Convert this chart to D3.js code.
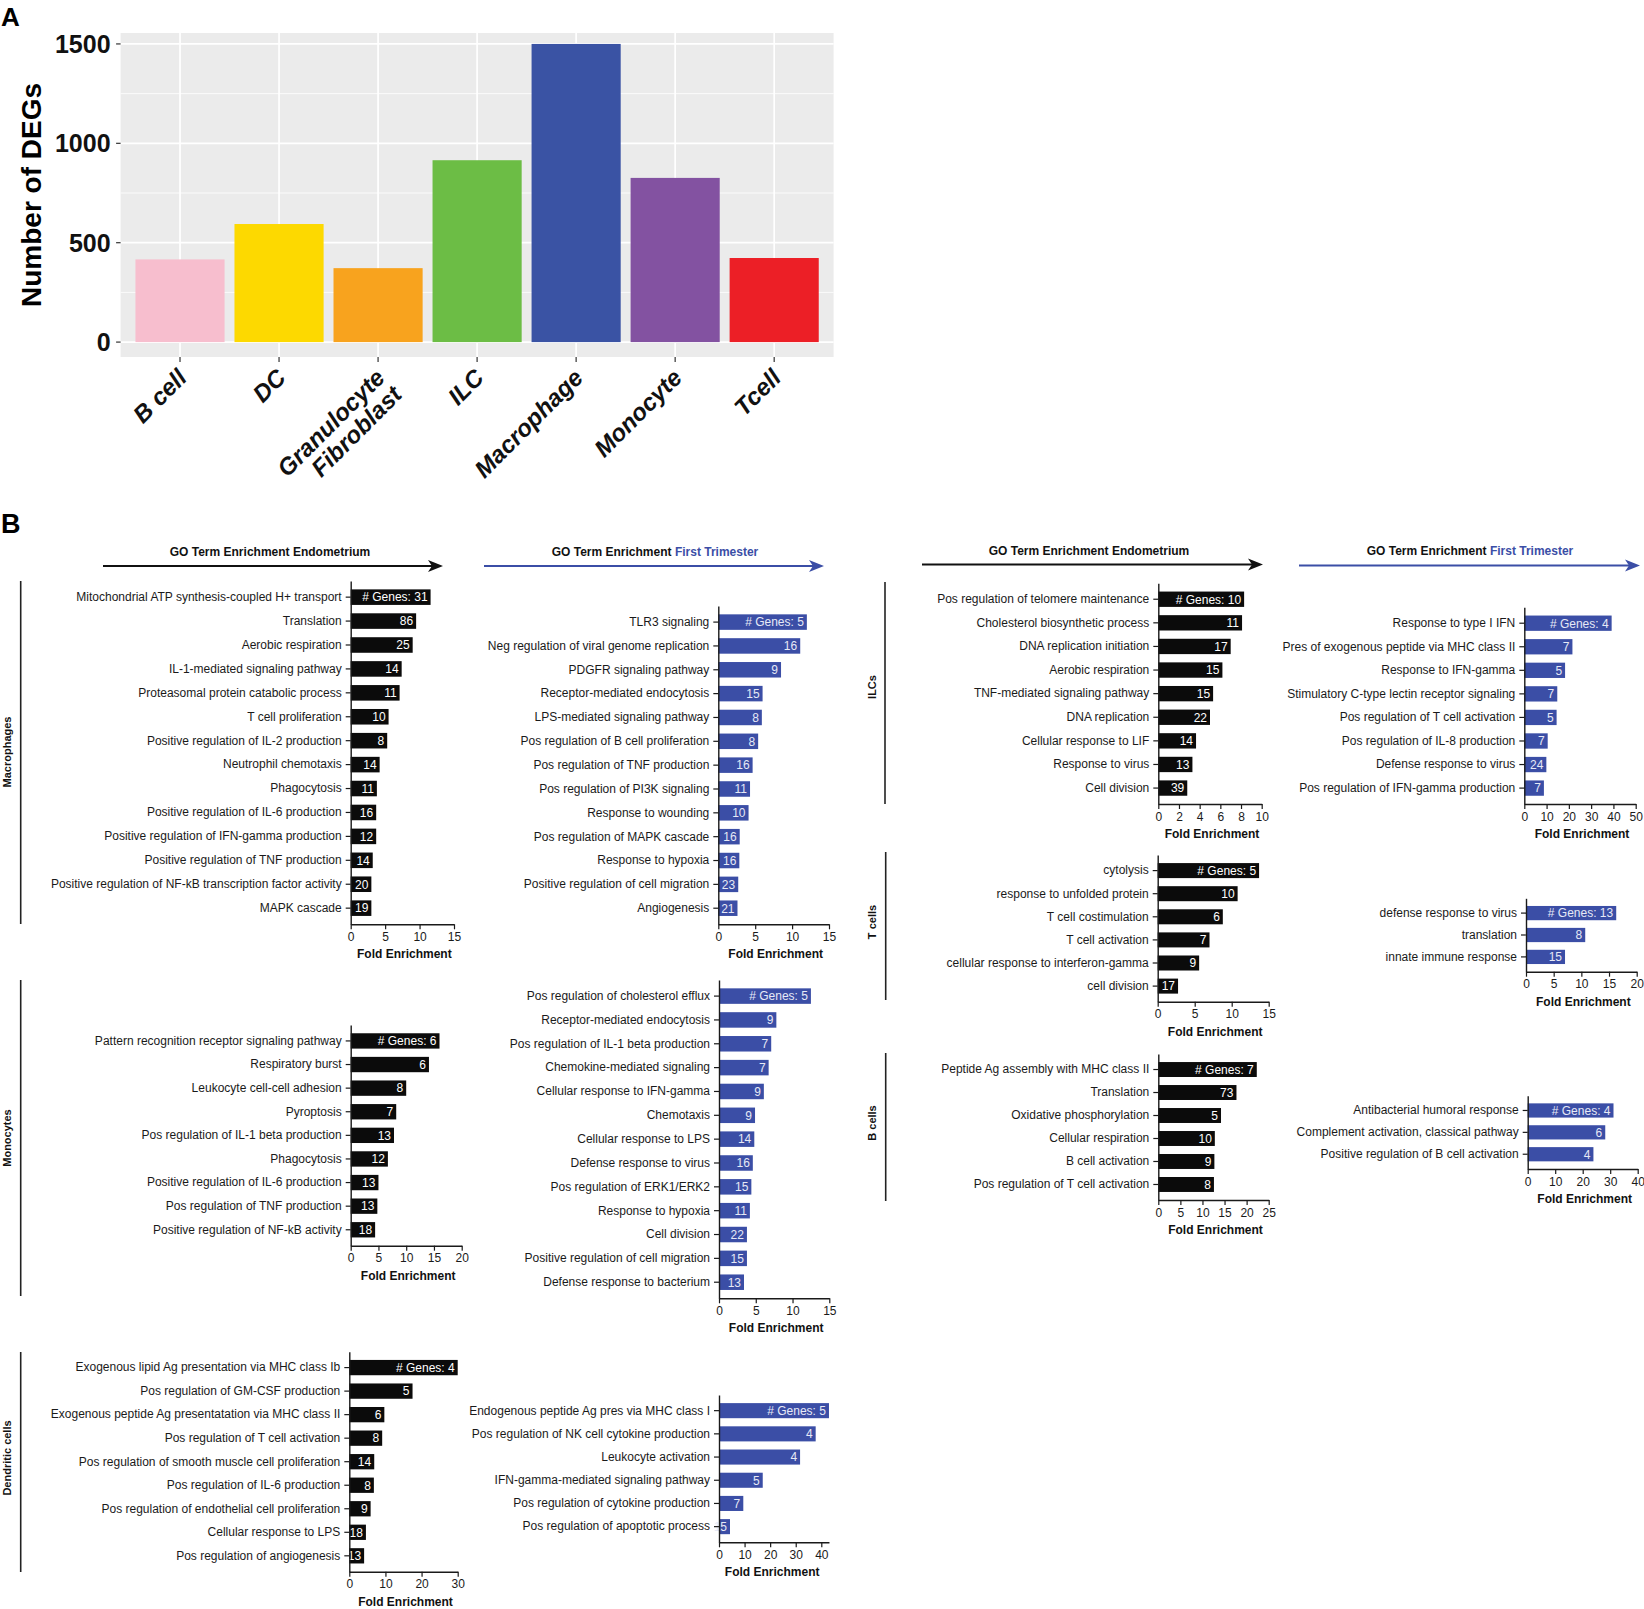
<!DOCTYPE html>
<html>
<head>
<meta charset="utf-8">
<script src="https://cdn.jsdelivr.net/npm/d3@7"></script>
<style>
  body { margin: 0; background: #fff; }
  svg { display: block; font-family: "Liberation Sans", Arial, sans-serif; }
</style>
</head>
<body>
<script>
// ---- panel A: number of DEGs per cell type
var cellTypes = ["B cell", "DC", "Granulocyte\nFibroblast", "ILC", "Macrophage", "Monocyte", "Tcell"];
var degCounts = [416, 594, 372, 915, 1500, 826, 423];
var cellColors = ["#F7BECE", "#FDD900", "#F8A31E", "#6CBD45", "#3A53A4", "#8352A1", "#EC1F26"];
var degTicks = [0, 500, 1000, 1500];
var degMinor = [250, 750, 1250];

// ---- panel B: GO term enrichment (terms, fold enrichment, gene counts)
var macEndoTerms = ["Mitochondrial ATP synthesis-coupled H+ transport", "Translation", "Aerobic respiration",
  "IL-1-mediated signaling pathway", "Proteasomal protein catabolic process", "T cell proliferation",
  "Positive regulation of IL-2 production", "Neutrophil chemotaxis", "Phagocytosis",
  "Positive regulation of IL-6 production", "Positive regulation of IFN-gamma production",
  "Positive regulation of TNF production", "Positive regulation of NF-kB transcription factor activity", "MAPK cascade"];
var macEndoFold = [11.6, 9.5, 9.0, 7.4, 7.1, 5.5, 5.3, 4.2, 3.8, 3.7, 3.7, 3.2, 3.0, 3.0];
var macEndoGenes = [31, 86, 25, 14, 11, 10, 8, 14, 11, 16, 12, 14, 20, 19];

var macFtTerms = ["TLR3 signaling", "Neg regulation of viral genome replication", "PDGFR signaling pathway",
  "Receptor-mediated endocytosis", "LPS-mediated signaling pathway", "Pos regulation of B cell proliferation",
  "Pos regulation of TNF production", "Pos regulation of PI3K signaling", "Response to wounding",
  "Pos regulation of MAPK cascade", "Response to hypoxia", "Positive regulation of cell migration", "Angiogenesis"];
var macFtFold = [12.0, 11.1, 8.5, 6.0, 5.9, 5.4, 4.65, 4.3, 4.1, 2.9, 2.85, 2.7, 2.6];
var macFtGenes = [5, 16, 9, 15, 8, 8, 16, 11, 10, 16, 16, 23, 21];

var monoEndoTerms = ["Pattern recognition receptor signaling pathway", "Respiratory burst", "Leukocyte cell-cell adhesion",
  "Pyroptosis", "Pos regulation of IL-1 beta production", "Phagocytosis", "Positive regulation of IL-6 production",
  "Pos regulation of TNF production", "Positive regulation of NF-kB activity"];
var monoEndoFold = [16.0, 14.1, 10.0, 8.2, 7.8, 6.7, 5.0, 4.8, 4.4];
var monoEndoGenes = [6, 6, 8, 7, 13, 12, 13, 13, 18];

var monoFtTerms = ["Pos regulation of cholesterol efflux", "Receptor-mediated endocytosis", "Pos regulation of IL-1 beta production",
  "Chemokine-mediated signaling", "Cellular response to IFN-gamma", "Chemotaxis", "Cellular response to LPS",
  "Defense response to virus", "Pos regulation of ERK1/ERK2", "Response to hypoxia", "Cell division",
  "Positive regulation of cell migration", "Defense response to bacterium"];
var monoFtFold = [12.5, 7.8, 7.1, 6.75, 6.1, 4.9, 4.8, 4.6, 4.4, 4.2, 3.8, 3.8, 3.4];
var monoFtGenes = [5, 9, 7, 7, 9, 9, 14, 16, 15, 11, 22, 15, 13];

var dcEndoTerms = ["Exogenous lipid Ag presentation via MHC class Ib", "Pos regulation of GM-CSF production",
  "Exogenous peptide Ag presentatation via MHC class II", "Pos regulation of T cell activation",
  "Pos regulation of smooth muscle cell proliferation", "Pos regulation of IL-6 production",
  "Pos regulation of endothelial cell proliferation", "Cellular response to LPS", "Pos regulation of angiogenesis"];
var dcEndoFold = [30.0, 17.5, 9.7, 9.1, 6.9, 6.8, 5.9, 4.6, 4.1];
var dcEndoGenes = [4, 5, 6, 8, 14, 8, 9, 18, 13];

var dcFtTerms = ["Endogenous peptide Ag pres via MHC class I", "Pos regulation of NK cell cytokine production",
  "Leukocyte activation", "IFN-gamma-mediated signaling pathway", "Pos regulation of cytokine production",
  "Pos regulation of apoptotic process"];
var dcFtFold = [43.0, 37.8, 31.7, 17.1, 9.5, 4.3];
var dcFtGenes = [5, 4, 4, 5, 7, 15];

var ilcEndoTerms = ["Pos regulation of telomere maintenance", "Cholesterol biosynthetic process", "DNA replication initiation",
  "Aerobic respiration", "TNF-mediated signaling pathway", "DNA replication", "Cellular response to LIF",
  "Response to virus", "Cell division"];
var ilcEndoFold = [8.3, 8.1, 7.0, 6.2, 5.3, 5.0, 3.65, 3.3, 2.8];
var ilcEndoGenes = [10, 11, 17, 15, 15, 22, 14, 13, 39];

var ilcFtTerms = ["Response to type I IFN", "Pres of exogenous peptide via MHC class II", "Response to IFN-gamma",
  "Stimulatory C-type lectin receptor signaling", "Pos regulation of T cell activation", "Pos regulation of IL-8 production",
  "Defense response to virus", "Pos regulation of IFN-gamma production"];
var ilcFtFold = [39.2, 21.6, 18.3, 14.8, 14.5, 10.5, 9.9, 8.8];
var ilcFtGenes = [4, 7, 5, 7, 5, 7, 24, 7];

var tEndoTerms = ["cytolysis", "response to unfolded protein", "T cell costimulation", "T cell activation",
  "cellular response to interferon-gamma", "cell division"];
var tEndoFold = [13.7, 10.8, 8.8, 7.0, 5.6, 2.75];
var tEndoGenes = [5, 10, 6, 7, 9, 17];

var tFtTerms = ["defense response to virus", "translation", "innate immune response"];
var tFtFold = [16.3, 10.7, 7.05];
var tFtGenes = [13, 8, 15];

var bEndoTerms = ["Peptide Ag assembly with MHC class II", "Translation", "Oxidative phosphorylation",
  "Cellular respiration", "B cell activation", "Pos regulation of T cell activation"];
var bEndoFold = [22.3, 17.7, 14.2, 12.8, 12.7, 12.6];
var bEndoGenes = [7, 73, 5, 10, 9, 8];

var bFtTerms = ["Antibacterial humoral response", "Complement activation, classical pathway",
  "Positive regulation of B cell activation"];
var bFtFold = [31.2, 28.2, 23.9];
var bFtGenes = [4, 6, 4];

var BLACK = "#0b0b0b";
var BLUE = "#3B4EA6";

window.onload = function(){
  var W = 1644, H = 1609;
  var svg = d3.select('body').append('svg').attr('width', W).attr('height', H);

  // ================= panel A =================
  svg.append('text').attr('x', 1).attr('y', 26).attr('font-size', 26).attr('font-weight', 'bold').text('A');

  var pA = {left: 120.6, right: 833.6, top: 33, bottom: 357};
  var xA = d3.scaleBand().domain(cellTypes).range([pA.left, pA.right]).paddingInner(0.1).paddingOuter(0.15);
  var yA = d3.scaleLinear().domain([-75, 1555]).range([pA.bottom, pA.top]);

  var a = svg.append('g');
  a.append('rect').attr('x', pA.left).attr('y', pA.top)
    .attr('width', pA.right - pA.left).attr('height', pA.bottom - pA.top).attr('fill', '#EBEBEB');
  a.selectAll('.minor').data(degMinor).enter().append('line')
    .attr('x1', pA.left).attr('x2', pA.right).attr('y1', yA).attr('y2', yA)
    .attr('stroke', '#fff').attr('stroke-width', 0.8);
  a.selectAll('.major').data(degTicks).enter().append('line')
    .attr('x1', pA.left).attr('x2', pA.right).attr('y1', yA).attr('y2', yA)
    .attr('stroke', '#fff').attr('stroke-width', 1.7);
  a.selectAll('.vgrid').data(cellTypes).enter().append('line')
    .attr('x1', function(d){ return xA(d) + xA.bandwidth()/2; })
    .attr('x2', function(d){ return xA(d) + xA.bandwidth()/2; })
    .attr('y1', pA.top).attr('y2', pA.bottom)
    .attr('stroke', '#fff').attr('stroke-width', 1.7);

  a.selectAll('.bar').data(cellTypes).enter().append('rect')
    .attr('x', function(d){ return xA(d); })
    .attr('y', function(d,i){ return yA(degCounts[i]); })
    .attr('width', xA.bandwidth())
    .attr('height', function(d,i){ return yA(0) - yA(degCounts[i]); })
    .attr('fill', function(d,i){ return cellColors[i]; });

  // y axis
  a.selectAll('.ytick').data(degTicks).enter().append('line')
    .attr('x1', pA.left - 4.5).attr('x2', pA.left).attr('y1', yA).attr('y2', yA)
    .attr('stroke', '#333').attr('stroke-width', 1.2);
  a.selectAll('.ylab').data(degTicks).enter().append('text')
    .attr('x', pA.left - 10).attr('y', yA).attr('dy', '0.36em')
    .attr('text-anchor', 'end').attr('font-size', 25).attr('font-weight', 'bold').attr('fill', '#111')
    .text(function(d){ return d; });
  a.append('text').attr('transform', 'translate(41,195) rotate(-90)')
    .attr('text-anchor', 'middle').attr('font-size', 28).attr('font-weight', 'bold').text('Number of DEGs');

  // x axis
  a.selectAll('.xtick').data(cellTypes).enter().append('line')
    .attr('x1', function(d){ return xA(d) + xA.bandwidth()/2; })
    .attr('x2', function(d){ return xA(d) + xA.bandwidth()/2; })
    .attr('y1', pA.bottom).attr('y2', pA.bottom + 5)
    .attr('stroke', '#333').attr('stroke-width', 1.2);
  var xl = a.selectAll('.xlab').data(cellTypes).enter().append('text')
    .attr('transform', function(d){ return 'translate(' + (xA(d) + xA.bandwidth()/2 - 4) + ',' + (pA.bottom + 10) + ') rotate(-45)'; })
    .attr('text-anchor', 'end').attr('font-size', 24).attr('font-weight', 'bold').attr('font-style', 'italic')
    .attr('fill', '#111');
  xl.each(function(d){
    var lines = d.split('\n');
    var t = d3.select(this);
    lines.forEach(function(line, k){
      t.append('tspan').attr('x', 0).attr('dy', k === 0 ? '0.72em' : '1.0em').text(line);
    });
  });

  // ================= panel B =================
  svg.append('text').attr('x', 1).attr('y', 533).attr('font-size', 27).attr('font-weight', 'bold').text('B');

  var headers = [
    {cx: 270, y: 556, x1: 103, x2: 443, ay: 566, blue: false},
    {cx: 655, y: 556, x1: 484, x2: 824, ay: 566, blue: true},
    {cx: 1089, y: 555, x1: 922, x2: 1263, ay: 564.5, blue: false},
    {cx: 1470, y: 555, x1: 1299, x2: 1640, ay: 565.5, blue: true}
  ];
  headers.forEach(function(h){
    var col = h.blue ? BLUE : '#111';
    var t = svg.append('text').attr('x', h.cx).attr('y', h.y).attr('text-anchor', 'middle')
      .attr('font-size', 12).attr('font-weight', 'bold').attr('fill', '#111');
    t.append('tspan').text('GO Term Enrichment ' + (h.blue ? '' : 'Endometrium'));
    if (h.blue) t.append('tspan').attr('fill', BLUE).text('First Trimester');
    svg.append('line').attr('x1', h.x1).attr('x2', h.x2 - 8).attr('y1', h.ay).attr('y2', h.ay)
      .attr('stroke', col).attr('stroke-width', 1.8);
    svg.append('path')
      .attr('d', 'M' + h.x2 + ',' + h.ay + ' L' + (h.x2 - 15) + ',' + (h.ay - 6) +
                 ' L' + (h.x2 - 11) + ',' + h.ay + ' L' + (h.x2 - 15) + ',' + (h.ay + 6) + ' Z')
      .attr('fill', col);
  });

  var groups = [
    {name: 'Macrophages', lx: 20.7, y1: 581, y2: 924, tx: 10.5, ty: 752},
    {name: 'Monocytes', lx: 20.7, y1: 980, y2: 1296, tx: 10.5, ty: 1138},
    {name: 'Dendritic cells', lx: 20.7, y1: 1352, y2: 1572, tx: 10.5, ty: 1458},
    {name: 'ILCs', lx: 885, y1: 582, y2: 804, tx: 876, ty: 687},
    {name: 'T cells', lx: 885.7, y1: 852, y2: 1000, tx: 875.5, ty: 922},
    {name: 'B cells', lx: 885.7, y1: 1053, y2: 1201, tx: 875.5, ty: 1123}
  ];
  groups.forEach(function(gp){
    svg.append('line').attr('x1', gp.lx).attr('x2', gp.lx).attr('y1', gp.y1).attr('y2', gp.y2)
      .attr('stroke', '#222').attr('stroke-width', 1.6);
    svg.append('text').attr('transform', 'translate(' + gp.tx + ',' + gp.ty + ') rotate(-90)')
      .attr('text-anchor', 'middle').attr('font-size', 11).attr('font-weight', 'bold').attr('fill', '#111')
      .text(gp.name);
  });

  var panels = [
    {terms: macEndoTerms, fold: macEndoFold, genes: macEndoGenes, color: BLACK,
     x0: 350.7, xEnd: 454, tickMax: 15, tickStep: 5, domMax: 15, top: 581, bottom: 924.3},
    {terms: macFtTerms, fold: macFtFold, genes: macFtGenes, color: BLUE,
     x0: 718.3, xEnd: 829, tickMax: 15, tickStep: 5, domMax: 15, top: 606, bottom: 924.3},
    {terms: monoEndoTerms, fold: monoEndoFold, genes: monoEndoGenes, color: BLACK,
     x0: 350.7, xEnd: 461.7, tickMax: 20, tickStep: 5, domMax: 20, top: 1025, bottom: 1245.7},
    {terms: monoFtTerms, fold: monoFtFold, genes: monoFtGenes, color: BLUE,
     x0: 719, xEnd: 829.3, tickMax: 15, tickStep: 5, domMax: 15, top: 980, bottom: 1298.3},
    {terms: dcEndoTerms, fold: dcEndoFold, genes: dcEndoGenes, color: BLACK,
     x0: 349.3, xEnd: 457.7, tickMax: 30, tickStep: 10, domMax: 30, top: 1351.7, bottom: 1571.7},
    {terms: dcFtTerms, fold: dcFtFold, genes: dcFtGenes, color: BLUE,
     x0: 719, xEnd: 821.3, tickMax: 40, tickStep: 10, domMax: 43, top: 1395, bottom: 1542.3},
    {terms: ilcEndoTerms, fold: ilcEndoFold, genes: ilcEndoGenes, color: BLACK,
     x0: 1158.3, xEnd: 1261.7, tickMax: 10, tickStep: 2, domMax: 10, top: 583.3, bottom: 804},
    {terms: ilcFtTerms, fold: ilcFtFold, genes: ilcFtGenes, color: BLUE,
     x0: 1524.3, xEnd: 1635.7, tickMax: 50, tickStep: 10, domMax: 50, top: 607.3, bottom: 804},
    {terms: tEndoTerms, fold: tEndoFold, genes: tEndoGenes, color: BLACK,
     x0: 1157.7, xEnd: 1268.7, tickMax: 15, tickStep: 5, domMax: 15, top: 855, bottom: 1001.7},
    {terms: bEndoTerms, fold: bEndoFold, genes: bEndoGenes, color: BLACK,
     x0: 1158.3, xEnd: 1268.7, tickMax: 25, tickStep: 5, domMax: 25, top: 1054, bottom: 1200},
    {terms: tFtTerms, fold: tFtFold, genes: tFtGenes, color: BLUE,
     x0: 1526, xEnd: 1636.7, tickMax: 20, tickStep: 5, domMax: 20, top: 898.3, bottom: 971.7},
    {terms: bFtTerms, fold: bFtFold, genes: bFtGenes, color: BLUE,
     x0: 1527.7, xEnd: 1637.7, tickMax: 40, tickStep: 10, domMax: 40, top: 1095.7, bottom: 1169}
  ];

  function plot(p){
    var g = this.append('g');
    var rangeEnd = p.x0 + (p.xEnd - p.x0) * p.domMax / p.tickMax;
    var x = d3.scaleLinear().domain([0, p.domMax]).range([p.x0, rangeEnd]);
    var y = d3.scaleBand().domain(p.terms).range([p.top, p.bottom])
              .paddingInner(0.35).paddingOuter(0.35);
    var rows = p.terms.map(function(t, i){ return {term: t, fold: p.fold[i], genes: p.genes[i], i: i}; });

    g.selectAll('.bar').data(rows).enter().append('rect')
      .attr('x', x(0))
      .attr('y', function(d){ return y(d.term); })
      .attr('width', function(d){ return x(d.fold) - x(0); })
      .attr('height', y.bandwidth())
      .attr('fill', p.color);

    g.selectAll('.bar-label').data(rows).enter().append('text')
      .attr('x', function(d){ return x(d.fold) - 3; })
      .attr('y', function(d){ return y(d.term) + y.bandwidth()/2; })
      .attr('dy', '0.36em')
      .attr('text-anchor', 'end').attr('font-size', 12)
      .attr('fill', p.color === BLUE ? '#e6e9f6' : '#fff')
      .text(function(d){ return d.i === 0 ? '# Genes: ' + d.genes : d.genes; });

    var ticks = d3.range(0, p.tickMax + 1e-9, p.tickStep);
    var xa = g.append('g').attr('transform', 'translate(0,' + p.bottom + ')')
      .call(d3.axisBottom(x).tickValues(ticks).tickSize(5).tickSizeOuter(0).tickPadding(3));
    var ya = g.append('g').attr('transform', 'translate(' + p.x0 + ',0)')
      .call(d3.axisLeft(y).tickSize(5).tickSizeOuter(0).tickPadding(4));
    [xa, ya].forEach(function(ax){
      ax.select('.domain').attr('stroke', '#1a1a1a').attr('stroke-width', 1.4);
      ax.selectAll('.tick line').attr('stroke', '#1a1a1a').attr('stroke-width', 1.2);
      ax.selectAll('.tick text').attr('fill', '#1a1a1a')
        .attr('font-family', '"Liberation Sans", Arial, sans-serif').attr('font-size', 12);
    });

    g.append('text').attr('x', (p.x0 + p.xEnd)/2 + 2).attr('y', p.bottom + 34)
      .attr('text-anchor', 'middle').attr('font-size', 12).attr('font-weight', 'bold').attr('fill', '#111')
      .text('Fold Enrichment');
  }

  panels.forEach(function(p){ plot.call(svg, p); });
};
</script>
</body>
</html>
